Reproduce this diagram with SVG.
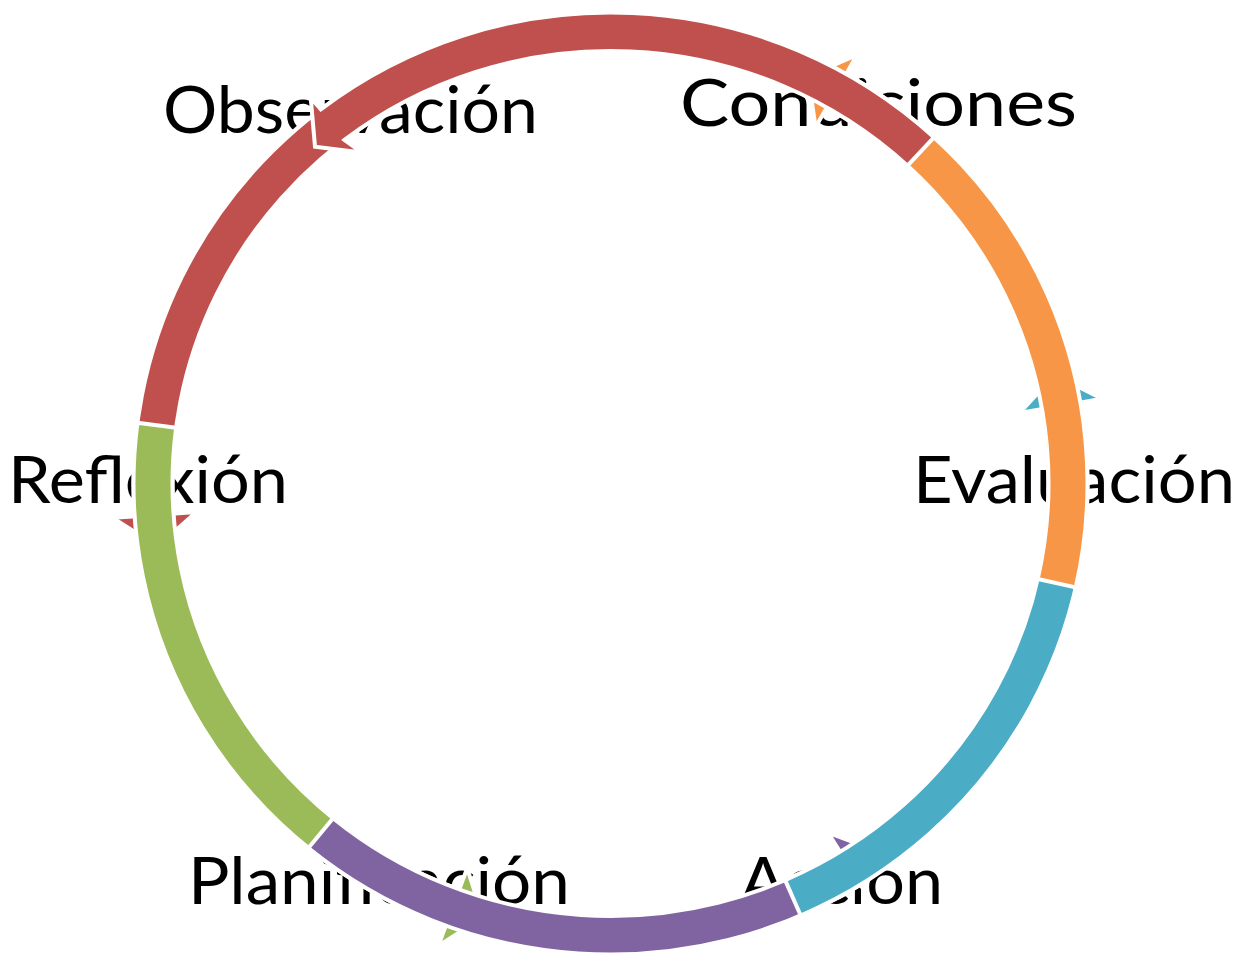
<svg xmlns="http://www.w3.org/2000/svg" width="1244" height="957" viewBox="0 0 1244 957">
<style>
.lbl{font-family:Lato,"Open Sans","Liberation Sans",sans-serif;font-size:65px;fill:#000;}
.arr{stroke:#fff;stroke-width:4;stroke-linejoin:miter;}
</style>
<rect width="1244" height="957" fill="#fff"/>
<g id="nodes">
<g id="n-observacion"><text class="lbl" x="163" y="133" textLength="375" lengthAdjust="spacingAndGlyphs">Observación</text></g>
<g id="n-condiciones"><text class="lbl" x="680" y="126" textLength="397" lengthAdjust="spacingAndGlyphs">Condiciones</text></g>
<g id="n-evaluacion"><text class="lbl" x="913" y="503" textLength="322" lengthAdjust="spacingAndGlyphs">Evaluación</text></g>
<g id="n-accion"><text class="lbl" x="740" y="904" textLength="203" lengthAdjust="spacingAndGlyphs">Acción</text></g>
<g id="n-planificacion"><text class="lbl" x="188" y="904" textLength="382" lengthAdjust="spacingAndGlyphs">Planificación</text></g>
<g id="n-reflexion"><text class="lbl" x="8" y="503" textLength="280" lengthAdjust="spacingAndGlyphs">Reflexión</text></g>
</g>
<g id="connectors" transform="translate(610.5 483.5) scale(1 0.9875)">
<path id="a-obs-ref" class="arr" fill="#C0504D" d="M-266.73,-395.45 A477,477 0 0 0 -475.84,33.27 L-497.78,34.81 L-453.05,63.67 L-413.99,28.95 L-436.93,30.55 A438,438 0 0 1 -244.93,-363.12 Z"/>
<path id="a-ref-pla" class="arr" fill="#9BBB59" d="M-473.03,-61.44 A477,477 0 0 0 -164.71,447.66 L-172.30,468.31 L-127.64,439.33 L-143.30,389.47 L-151.24,411.06 A438,438 0 0 1 -434.35,-56.41 Z"/>
<path id="a-pla-acc" class="arr" fill="#8064A2" d="M-302.12,369.12 A477,477 0 0 0 249.94,406.28 L251.52,408.83 L266.32,371.97 L217.46,353.47 L229.51,373.06 A438,438 0 0 1 -277.42,338.94 Z"/>
<path id="a-acc-eva" class="arr" fill="#4BACC6" d="M190.20,437.44 A477,477 0 0 0 469.90,-82.01 L491.57,-85.79 L444.10,-109.91 L408.82,-71.35 L431.48,-75.31 A438,438 0 0 1 174.65,401.67 Z"/>
<path id="a-eva-con" class="arr" fill="#F79646" d="M465.24,105.27 A477,477 0 0 0 235.63,-414.75 L246.50,-433.88 L197.68,-412.59 L205.01,-360.84 L216.37,-380.84 A438,438 0 0 1 427.20,96.67 Z"/>
<path id="a-con-obs" class="arr" fill="#C0504D" d="M323.48,-350.55 A477,477 0 0 0 -289.72,-378.93 L-299.80,-390.70 L-295.50,-341.10 L-248.80,-335.20 L-266.03,-347.95 A438,438 0 0 1 297.03,-321.89 Z"/>
</g>
</svg>
